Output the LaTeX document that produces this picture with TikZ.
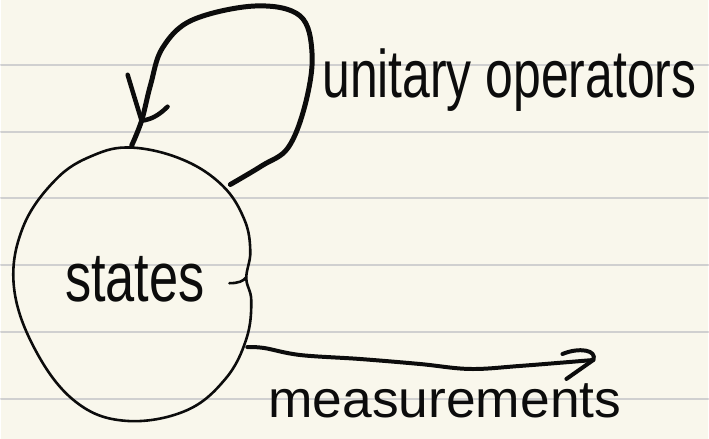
\documentclass[tikz,border=0pt]{standalone}
\usepackage{fontspec}
\setmainfont{Liberation Sans}
\usepackage{graphicx}
\usepackage{tikz}
\definecolor{paper}{RGB}{249,247,236}
\definecolor{rule}{RGB}{208,208,208}
\definecolor{ink}{RGB}{12,12,12}

\begin{document}
\begin{tikzpicture}[x=1pt, y=-1pt, line join = round, line cap = round,
  hand/.style={anchor=base west, inner sep=0pt, text=ink, font=\fontsize{50}{50}\selectfont}]
\fill[paper] (0,0) rectangle (709,440);
\foreach \y in {65,132,199,266,333,400}
  \draw[rule, line width=2pt] (0,\y) -- (709,\y);

\node[hand] (states) at (64,302) {\scalebox{1.05}[1.4]{states}};
\node[hand] (unitary) at (322,98) {\scalebox{1.0}[1.35]{unitary operators}};
\node[hand] (measurements) at (268,419) {\scalebox{1.07}[1.05]{measurements}};

\coordinate (loopstart) at (230,185);
\coordinate (loopend) at (131,146);
\coordinate (looptip) at (141,121);
\coordinate (measstart) at (247,348);
\coordinate (meastip) at (594,361);

% the blob round the states
\draw[ink, line width=2.6pt] plot[smooth cycle, tension=0.65] coordinates {
  (131,148) (182,160) (222,186) (244,220) (250,252) (246,279) (251,302)
  (246,340) (225,380) (185,412) (125,422) (75,403) (35,352) (13,288)
  (22,228) (55,180) (92,156)};
\draw[ink, line width=2.6pt] (229,284) .. controls (238,284) and (243,282) .. (246,278);

% unitary operators loop
\draw[ink, line width=5pt] plot[smooth, tension=0.6] coordinates {
  (loopstart) (262,166) (288,148) (305,105) (312,55) (300,16) (255,6)
  (192,20) (162,48) (150,85) (looptip) (loopend)};
\draw[ink, line width=4.5pt] (127,75) .. controls (133,95) and (137,108) .. (looptip);
\draw[ink, line width=4.5pt] (167,107) .. controls (158,116) and (150,120) .. (looptip);

% measurements arrow
\draw[ink, line width=4pt] plot[smooth, tension=0.6] coordinates {
  (measstart) (264,349) (300,356) (360,360) (420,365) (470,370) (520,367) (meastip)};
\draw[ink, line width=4pt] (563,355) .. controls (580,348) and (598,351) .. (meastip) -- (567,380);
\end{tikzpicture}
\end{document}
